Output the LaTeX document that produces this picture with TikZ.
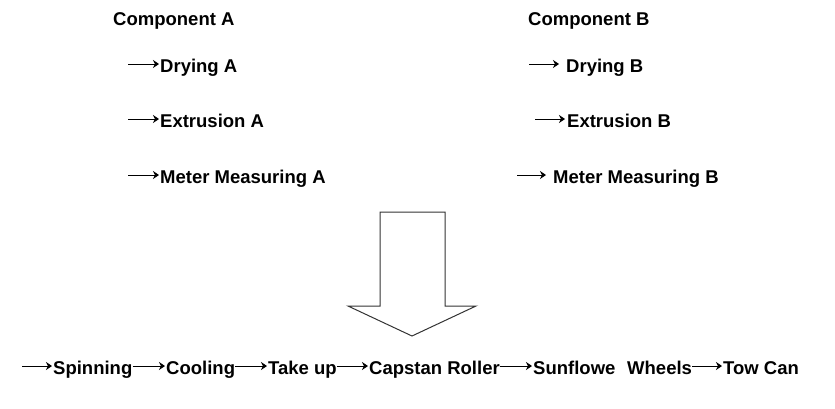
\documentclass[tikz,border=0pt]{standalone}
\usepackage{fontspec}
\setmainfont{Liberation Sans}
\usetikzlibrary{arrows.meta}
\begin{document}
\begin{tikzpicture}[x=1pt,y=-1pt,
  lbl/.style={inner sep=0pt,anchor=base west,font=\fontsize{18.5}{22}\selectfont\bfseries},
  arr/.style={line width=1pt,-{Stealth[length=6pt,width=8pt,inset=2pt]}}]
\useasboundingbox (0,0) rectangle (835,408);
% Component A
\node[lbl] (compA) at (113,25) {Component A};
\node[lbl] (dryA) at (160,72) {Drying A};
\node[lbl] (extA) at (160,127) {Extrusion A};
\node[lbl] (metA) at (160,183) {Meter Measuring A};
\coordinate (sdryA) at (128,64);
\coordinate (sextA) at (128,119);
\coordinate (smetA) at (128,175);
\draw[arr] (sdryA) -- ([xshift=-1pt,yshift=8pt]dryA.base west);
\draw[arr] (sextA) -- ([xshift=-1pt,yshift=8pt]extA.base west);
\draw[arr] (smetA) -- ([xshift=-1pt,yshift=8pt]metA.base west);
% Component B
\node[lbl] (compB) at (528,25) {Component B};
\node[lbl] (dryB) at (566,72) {Drying B};
\node[lbl] (extB) at (567,127) {Extrusion B};
\node[lbl] (metB) at (553,183) {Meter Measuring B};
\coordinate (sdryB) at (529,64);
\coordinate (sextB) at (535,119);
\coordinate (smetB) at (517,175);
\draw[arr] (sdryB) -- ([xshift=-7pt,yshift=8pt]dryB.base west);
\draw[arr] (sextB) -- ([xshift=-2pt,yshift=8pt]extB.base west);
\draw[arr] (smetB) -- ([xshift=-7pt,yshift=8pt]metB.base west);
% Block arrow
\draw[line width=1pt,draw=black!80] (380,212) -- (445,212) -- (445,306) -- (476,306) -- (412,336) -- (348,306) -- (380,306) -- cycle;
% Bottom line
\node[lbl] (spin) at (53,374) {Spinning};
\node[lbl] (cool) at (166,374) {Cooling};
\node[lbl] (take) at (268,374) {Take up};
\node[lbl] (cap) at (369,374) {Capstan Roller};
\node[lbl] (sun) at (533,374) {Sunflowe};
\node[lbl] (whe) at (627,374) {Wheels};
\node[lbl] (tow) at (723,374) {Tow Can};
\coordinate (sspin) at (22,366);
\draw[arr] (sspin) -- ([xshift=-1pt,yshift=8pt]spin.base west);
\draw[arr] ([xshift=0pt,yshift=8pt]spin.base east) -- ([xshift=-1pt,yshift=8pt]cool.base west);
\draw[arr] ([xshift=0pt,yshift=8pt]cool.base east) -- ([xshift=-1pt,yshift=8pt]take.base west);
\draw[arr] ([xshift=0pt,yshift=8pt]take.base east) -- ([xshift=-1pt,yshift=8pt]cap.base west);
\draw[arr] ([xshift=0pt,yshift=8pt]cap.base east) -- ([xshift=-1pt,yshift=8pt]sun.base west);
\draw[arr] ([xshift=0pt,yshift=8pt]whe.base east) -- ([xshift=-1pt,yshift=8pt]tow.base west);
\end{tikzpicture}
\end{document}
